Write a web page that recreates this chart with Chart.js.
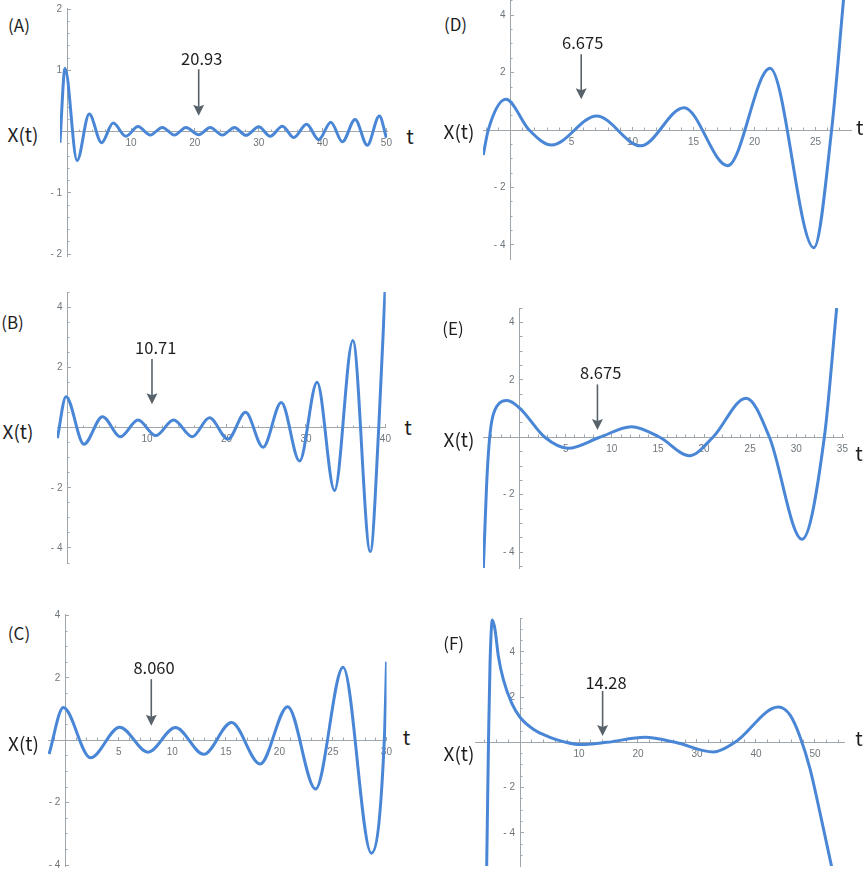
<!DOCTYPE html>
<html lang="ja">
<head>
<meta charset="UTF-8" />
<title>X(t)</title>
<script src="https://cdn.jsdelivr.net/npm/chart.js"></script>
<style>
  body { margin: 0; background: #fff; width: 863px; height: 872px; position: relative; overflow: hidden;
         font-family: "Noto Sans CJK JP", "Noto Sans", sans-serif; }
  canvas { position: absolute; }
  .lbl { position: absolute; transform: translate(-50%, -50%); line-height: 1; white-space: nowrap; color: #1e1e1e; }
</style>
</head>
<body>
<script>
// curve samples: t values and X(t) values per panel
const tA = [-1.13, -0.34, 1.55, 3.45, 5.39, 7.2, 9.2, 11.1, 13.0, 14.9, 16.8, 18.6, 20.6, 22.4, 24.3, 26.2, 28.0, 30.0, 31.8, 33.7, 35.5, 37.5, 39.4, 41.3, 43.1, 45.1, 47.0, 48.9, 50.0];
const xA = [-0.18, 1.03, -0.47, 0.29, -0.18, 0.14, -0.075, 0.085, -0.055, 0.07, -0.055, 0.07, -0.05, 0.07, -0.055, 0.07, -0.06, 0.08, -0.075, 0.09, -0.095, 0.12, -0.13, 0.155, -0.165, 0.2, -0.22, 0.255, -0.1];

const tB = [-1.27, -0.19, 2.07, 4.4, 6.66, 8.87, 11.1, 13.35, 15.7, 17.86, 20.2, 22.4, 24.6, 26.9, 29.2, 31.4, 33.6, 35.9, 38.1, 39.16, 39.95];
const xB = [-0.35, 1.03, -0.55, 0.365, -0.30, 0.255, -0.265, 0.255, -0.30, 0.33, -0.38, 0.51, -0.65, 0.84, -1.11, 1.51, -2.09, 2.90, -4.12, 0, 4.55];

const tC = [-1.52, -0.19, 2.35, 5.08, 7.72, 10.29, 12.93, 15.53, 18.2, 20.77, 23.38, 25.95, 28.59, 29.8, 30.01];
const xC = [-0.44, 1.05, -0.56, 0.42, -0.38, 0.41, -0.45, 0.57, -0.76, 1.08, -1.56, 2.34, -3.62, 0, 2.52];

const tD = [-2.23, -1.82, -0.37, 1.54, 3.37, 7.06, 10.67, 14.22, 17.8, 21.27, 24.87, 26.32, 27.3];
const xD = [-0.87, 0, 1.07, 0, -0.52, 0.49, -0.55, 0.78, -1.24, 2.15, -4.10, 0, 4.55];

const tE = [-3.93, -3.75, -3.58, -3.32, -3.03, -2.49, -1.34, 0.03, 2.74, 5.26, 8.69, 12.12, 15.2, 18.4, 20.96, 24.56, 27.09, 30.63, 33.04, 34.38];
const xE = [-4.55, -3.05, -1.66, -0.27, 0.54, 1.07, 1.28, 1.01, 0, -0.38, 0, 0.37, 0, -0.64, 0, 1.36, 0, -3.55, 0, 4.5];

const tF = [-5.65, -5.48, -5.31, -5.08, -4.69, -4.24, -3.67, -2.82, -1.41, 0, 2.26, 5.08, 7.34, 10.17, 14.7, 21.2, 26.3, 32.77, 36.44, 43.8, 45.76, 47.46, 49.15, 51.13, 52.82];
const xF = [-5.5, -2.41, 0.55, 3.51, 5.41, 4.99, 3.81, 2.77, 1.73, 1.11, 0.58, 0.22, 0.03, -0.10, 0, 0.22, 0, -0.43, 0, 1.56, 1.21, 0.25, -1.16, -3.45, -5.5];

const panelNames = ["(A)", "(B)", "(C)", "(D)", "(E)", "(F)"];
// arrow marks: where they point (t), arrow top / tip (X), and the printed value
const markT = [20.6, 10.63, 8.03, 5.8, 8.44, 14.0];
const markTop = [1.02, 2.28, 1.96, 2.64, 1.84, 2.27];
const markTip = [0.26, 0.78, 0.47, 1.07, 0.25, 0.28];
const markText = ["20.93", "10.71", "8.060", "6.675", "8.675", "14.28"];

// axis ranges and tick steps
const tMin = [-1.125, -1.32, -1.62, -2.25, -3.97, -7.63];
const tMax = [50.125, 40.04, 30.01, 27.91, 35.1, 54.92];
const xMin = [-2.03, -4.50, -4.03, -4.49, -4.55, -5.47];
const xMax = [2.02, 4.51, 4.05, 4.53, 4.50, 5.50];
const tStep = [10, 10, 5, 5, 5, 10];
const tMinor = [2, 2, 1, 1, 1, 2];
const xStep = [1, 2, 2, 2, 2, 2];
const xMinor = [0.2, 0.5, 0.5, 0.5, 0.5, 0.5];

// layout: plot box [left, top, width, height] and text centres
const boxes = [
  [60, 8, 328, 248],
  [57, 292, 330, 271],
  [48, 614, 340, 252],
  [483, 0, 368, 259],
  [483, 308, 361, 260],
  [475, 618, 369, 248],
];
const textPos = [
  [[19, 23.5], [23, 133], [410, 136], [201.7, 58]],
  [[12.5, 320.5], [18, 430], [408, 427], [155.7, 347.3]],
  [[19, 631.7], [23.5, 741.7], [406.5, 737], [154, 667.3]],
  [[455.5, 23.3], [459, 130], [859.7, 127], [582.7, 42.3]],
  [[453, 326.7], [459, 437.5], [859, 453], [600.7, 372.3]],
  [[453.7, 641.7], [459, 751.7], [859, 738], [606, 681.7]],
];

const series = [[tA, xA], [tB, xB], [tC, xC], [tD, xD], [tE, xE], [tF, xF]];

const PAD = 14;
const LINE = "#4a86d6";
const AXIS = "#a0a7ac";
const TICK = "#6f767b";
const ARROW = "#58626a";
const tickFont = { family: "Liberation Sans, Arial, sans-serif", size: 10 };

function addText(str, pos, size) {
  const d = document.createElement("div");
  d.className = "lbl";
  d.textContent = str;
  d.style.left = pos[0] + "px";
  d.style.top = pos[1] + "px";
  d.style.fontSize = size + "px";
  document.body.appendChild(d);
}

function yLabel(v) {
  if (Math.abs(v) < 1e-9) return "";
  return (v < 0 ? "- " + (-v) : "" + v) + "\u2002";
}

function makePanel(i) {
  const [l, t, w, h] = boxes[i];
  const cv = document.createElement("canvas");
  cv.width = w + 2 * PAD;
  cv.height = h + 2 * PAD;
  cv.style.left = (l - PAD) + "px";
  cv.style.top = (t - PAD) + "px";
  document.body.appendChild(cv);

  const [ts, xs] = series[i];

  const markPlugin = {
    id: "mark" + i,
    afterDatasetsDraw(chart) {
      const { ctx, scales } = chart;
      const px = scales.x.getPixelForValue(markT[i]);
      const top = scales.y.getPixelForValue(markTop[i]);
      const tip = scales.y.getPixelForValue(markTip[i]);
      ctx.save();
      ctx.strokeStyle = ARROW;
      ctx.fillStyle = ARROW;
      ctx.lineWidth = 1.6;
      ctx.beginPath();
      ctx.moveTo(px, top);
      ctx.lineTo(px, tip - 7);
      ctx.stroke();
      ctx.beginPath();
      ctx.moveTo(px, tip);
      ctx.lineTo(px - 5.5, tip - 11);
      ctx.lineTo(px, tip - 9);
      ctx.lineTo(px + 5.5, tip - 11);
      ctx.closePath();
      ctx.fill();
      ctx.restore();
    },
  };

  new Chart(cv, {
    type: "line",
    data: {
      datasets: [{
        data: ts.map((v, k) => ({ x: v, y: xs[k] })),
        xAxisID: "x",
        yAxisID: "y",
        borderColor: LINE,
        borderWidth: 3,
        pointRadius: 0,
        fill: false,
        cubicInterpolationMode: "monotone",
      }],
    },
    options: {
      responsive: false,
      animation: false,
      events: [],
      layout: { padding: PAD },
      plugins: { legend: { display: false }, tooltip: { enabled: false } },
      scales: {
        x: {
          type: "linear", min: tMin[i], max: tMax[i], position: { y: 0 },
          afterFit: (s) => { s.height = 0; },
          border: { display: true, color: AXIS, width: 1 },
          grid: { drawOnChartArea: false, drawTicks: true, tickLength: -4, color: AXIS },
          ticks: {
            stepSize: tStep[i], includeBounds: false, autoSkip: false, maxRotation: 0,
            padding: 10, color: TICK, font: tickFont,
            callback: (v) => (Math.abs(v) < 1e-9 ? "" : "" + v),
          },
        },
        xm: {
          type: "linear", axis: "x", min: tMin[i], max: tMax[i], position: { y: 0 },
          afterFit: (s) => { s.height = 0; },
          border: { display: false },
          grid: { drawOnChartArea: false, drawTicks: true, tickLength: -2.5, color: AXIS },
          ticks: { stepSize: tMinor[i], includeBounds: false, autoSkip: false, display: false },
        },
        y: {
          type: "linear", min: xMin[i], max: xMax[i], position: { x: 0 },
          afterFit: (s) => { s.width = 0; },
          border: { display: true, color: AXIS, width: 1 },
          grid: { drawOnChartArea: false, drawTicks: true, tickLength: -4, color: AXIS },
          ticks: {
            stepSize: xStep[i], includeBounds: false, autoSkip: false,
            color: TICK, font: tickFont, callback: yLabel,
          },
        },
        ym: {
          type: "linear", axis: "y", min: xMin[i], max: xMax[i], position: { x: 0 },
          afterFit: (s) => { s.width = 0; },
          border: { display: false },
          grid: { drawOnChartArea: false, drawTicks: true, tickLength: -2.5, color: AXIS },
          ticks: { stepSize: xMinor[i], includeBounds: false, autoSkip: false, display: false },
        },
      },
    },
    plugins: [markPlugin],
  });

  const p = textPos[i];
  addText(panelNames[i], p[0], 17);
  addText("X(t)", p[1], 19);
  addText("t", p[2], 20);
  addText(markText[i], p[3], 16.5);
}

for (let i = 0; i < 6; i++) makePanel(i);
</script>
</body>
</html>
